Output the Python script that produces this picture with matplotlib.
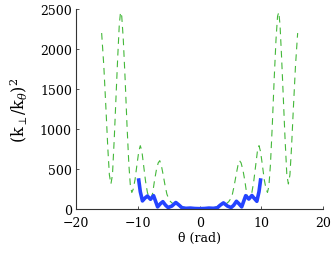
"""
(k_perp/k_theta)^2 along the field line
"""
import matplotlib
matplotlib.use('Agg')
import matplotlib.pyplot as plt

# dashed green curve
theta_green = [-15.85, -15.5, -15.15, -14.85, -14.6, -14.35, -14.1, -13.8, -13.5, -13.25,
               -13.0, -12.8, -12.6, -12.35, -12.05, -11.75, -11.45, -11.2, -10.97, -10.75,
               -10.45, -10.15, -9.85, -9.6, -9.35, -9.05, -8.75, -8.45, -8.15, -7.9,
               -7.6, -7.3, -7.0, -6.7, -6.45, -6.2, -5.9, -5.6, -5.3, -5.0,
               -4.7, -4.4, -4.1, -3.8, -3.5, -3.1, -2.7, -2.3, -1.9, -1.5,
               -1.0, -0.5, 0.0, 0.5, 1.0, 1.5, 1.9, 2.3, 2.7, 3.1,
               3.5, 3.8, 4.1, 4.4, 4.7, 5.0, 5.3, 5.6, 5.9, 6.2,
               6.45, 6.7, 7.0, 7.3, 7.6, 7.9, 8.15, 8.45, 8.75, 9.05,
               9.35, 9.6, 9.85, 10.15, 10.45, 10.75, 10.97, 11.2, 11.45, 11.75,
               12.05, 12.35, 12.6, 12.8, 13.0, 13.25, 13.5, 13.8, 14.1, 14.35,
               14.6, 14.85, 15.15, 15.5, 15.85]
kk_green = [2200, 1790, 1250, 760, 430, 316, 430, 900, 1450, 1900,
            2300, 2460, 2410, 2120, 1620, 1050, 560, 290, 210, 250,
            370, 550, 720, 794, 730, 540, 350, 210, 140, 130,
            200, 360, 490, 580, 607, 550, 430, 300, 190, 130,
            95, 75, 63, 57, 52, 42, 30, 20, 12, 6,
            2, 0.5, 0, 0.5, 2, 6, 12, 20, 30, 42,
            52, 57, 63, 75, 95, 130, 190, 300, 430, 550,
            607, 580, 490, 360, 200, 130, 140, 210, 350, 540,
            730, 794, 720, 550, 370, 250, 210, 290, 560, 1050,
            1620, 2120, 2410, 2460, 2300, 1900, 1450, 900, 430, 316,
            430, 760, 1250, 1790, 2200]

# thick blue curve
theta_blue = [-9.85, -9.6, -9.25, -8.85, -8.45, -7.95, -7.45, -7.1, -6.8, -6.35,
              -5.95, -5.5, -5.1, -4.5, -3.85, -3.3, -2.85, -2.2, -1.5, -0.8,
              0.0, 0.8, 1.5, 2.2, 2.85, 3.3, 3.85, 4.5, 5.1, 5.5,
              5.95, 6.35, 6.8, 7.1, 7.45, 7.95, 8.45, 8.85, 9.25, 9.6, 9.85]
kk_blue = [365, 220, 105, 140, 165, 125, 170, 95, 30, 70,
           95, 50, 22, 40, 85, 50, 18, 12, 15, 10,
           8, 10, 15, 12, 18, 50, 80, 40, 22, 50,
           100, 70, 30, 95, 170, 128, 172, 135, 100, 220, 365]

x_ticks = [-20, -10, 0, 10, 20]
y_ticks = [0, 500, 1000, 1500, 2000, 2500]

plt.rcParams['font.family'] = 'DejaVu Serif'
plt.rcParams['mathtext.fontset'] = 'dejavuserif'
plt.rcParams['font.size'] = 9

fig = plt.figure(figsize=(3.34, 2.55), dpi=100)
ax = fig.add_axes([0.2275, 0.1753, 0.7405, 0.7855])

ax.plot(theta_green, kk_green, color='#44b83a', linewidth=0.8, linestyle=(0, (6, 4.5)))
ax.plot(theta_blue, kk_blue, color='#2443ff', linewidth=2.6, solid_joinstyle='round')

ax.set_xlim(-20, 20)
ax.set_ylim(0, 2500)
ax.set_xticks(x_ticks)
ax.set_yticks(y_ticks)
ax.set_xticklabels(['\u221220', '\u221210', '0', '10', '20'])

ax.spines['top'].set_visible(False)
ax.spines['right'].set_visible(False)
for s in ('left', 'bottom'):
    ax.spines[s].set_linewidth(0.8)
    ax.spines[s].set_color('#333333')
ax.tick_params(direction='in', length=2.5, width=0.6, colors='#333333', labelcolor='black')
ax.tick_params(axis='x', pad=5)
ax.tick_params(axis='y', pad=3)

ax.set_xlabel('\u03b8 (rad)', labelpad=1)
ax.set_ylabel(r'$(\mathrm{k}_{\perp}/\mathrm{k}_{\theta})^2$', fontsize=11.5, labelpad=7)

plt.savefig('out.png', dpi=100)
plt.close()
